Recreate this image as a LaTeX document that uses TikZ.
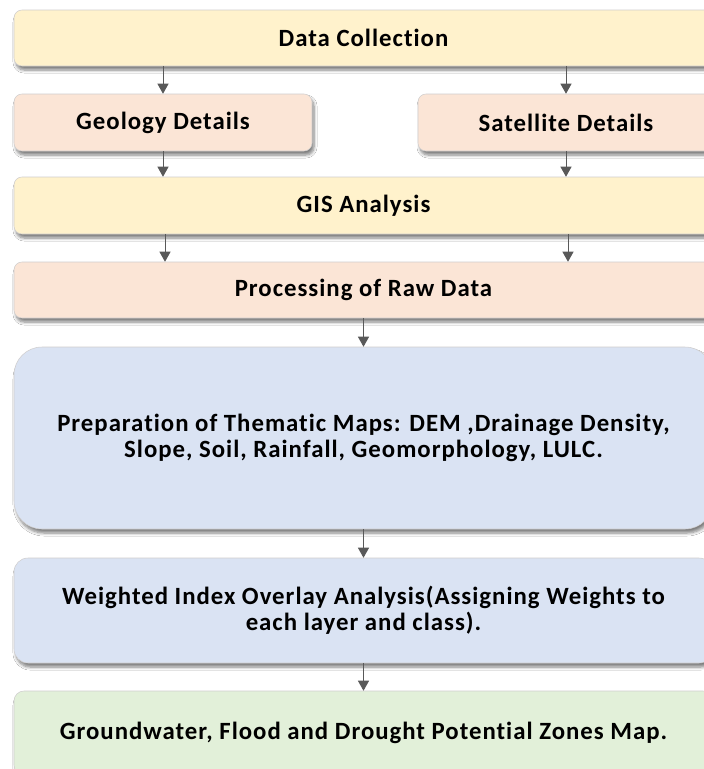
\documentclass[tikz,border=0pt]{standalone}
\usepackage{fontspec}
\setmainfont[Ligatures=CommonOff, LetterSpace=4]{Carlito}
\usetikzlibrary{shadows.blur,arrows.meta}
\newdimen\pxu
\pxu=0.75pt
\definecolor{boxyellow}{HTML}{FFF2CC}
\definecolor{boxpeach}{HTML}{FBE5D6}
\definecolor{boxblue}{HTML}{DAE3F3}
\definecolor{boxgreen}{HTML}{E2F0D9}
\definecolor{boxedge}{HTML}{D0CECE}
\definecolor{arrowgray}{HTML}{595959}
\tikzset{
  stagebox/.style={draw=boxedge, line width=0.4pt, rounded corners=8\pxu,
    inner sep=0pt, align=center, font=\fontsize{18.6}{19.8}\selectfont\bfseries,
    blur shadow={shadow xshift=2\pxu, shadow yshift=-4\pxu, shadow blur steps=6,
      shadow blur radius=3\pxu, shadow opacity=50}},
  flowarrow/.style={draw=arrowgray, line width=0.75pt,
    -{Triangle[width=8.25pt,length=7.5pt]}}
}
\begin{document}
\begin{tikzpicture}[x=1\pxu,y=-1\pxu]
\useasboundingbox (0,0) rectangle (704,769);
\fill[white] (0,0) rectangle (704,769);
\clip (0,0) rectangle (704,769);

% boxes (pixel grid, y pointing down)
\node[stagebox, fill=boxyellow, minimum width=699\pxu, minimum height=56\pxu] (collect) at (363.5,38) {Data Collection};
\node[stagebox, fill=boxpeach, minimum width=298\pxu, minimum height=57\pxu] (geology) at (163,122.5) {Geology Details};
\node[stagebox, fill=boxpeach, minimum width=296\pxu, minimum height=57\pxu] (satellite) at (566,122.5) {Satellite Details};
\node[stagebox, fill=boxyellow, minimum width=699\pxu, minimum height=57\pxu] (gis) at (363.5,205.5) {GIS Analysis};
\node[stagebox, fill=boxpeach, minimum width=699\pxu, minimum height=56\pxu] (process) at (363.5,290) {Processing of Raw Data};
\node[stagebox, fill=boxblue, rounded corners=28\pxu, minimum width=699\pxu, minimum height=182\pxu] (thematic) at (363.5,438)
  {Preparation of Thematic Maps: DEM ,Drainage Density,\\ Slope, Soil, Rainfall, Geomorphology, LULC.};
\node[stagebox, fill=boxblue, rounded corners=14\pxu, minimum width=699\pxu, minimum height=105\pxu] (overlay) at (363.5,610.5)
  {Weighted Index Overlay Analysis(Assigning Weights to\\ each layer and class).};
\node[stagebox, fill=boxgreen, rounded corners=10\pxu, minimum width=699\pxu, minimum height=84\pxu] (zones) at (363.5,733)
  {Groundwater, Flood and Drought Potential Zones Map.};

% connectors
\draw[flowarrow] (collect.south -| geology.south) -- (geology.north);
\draw[flowarrow] (collect.south -| satellite.south) -- (satellite.north);
\draw[flowarrow] (geology.south) -- (geology.south |- gis.north);
\draw[flowarrow] (satellite.south) -- (satellite.south |- gis.north);
\coordinate (gisleft) at (165,0);
\coordinate (gisright) at (568,0);
\draw[flowarrow] (gis.south -| gisleft) -- (process.north -| gisleft);
\draw[flowarrow] (gis.south -| gisright) -- (process.north -| gisright);
\draw[flowarrow] (process.south) -- (thematic.north);
\draw[flowarrow] (thematic.south) -- (overlay.north);
\draw[flowarrow] (overlay.south) -- (zones.north);
\end{tikzpicture}
\end{document}
